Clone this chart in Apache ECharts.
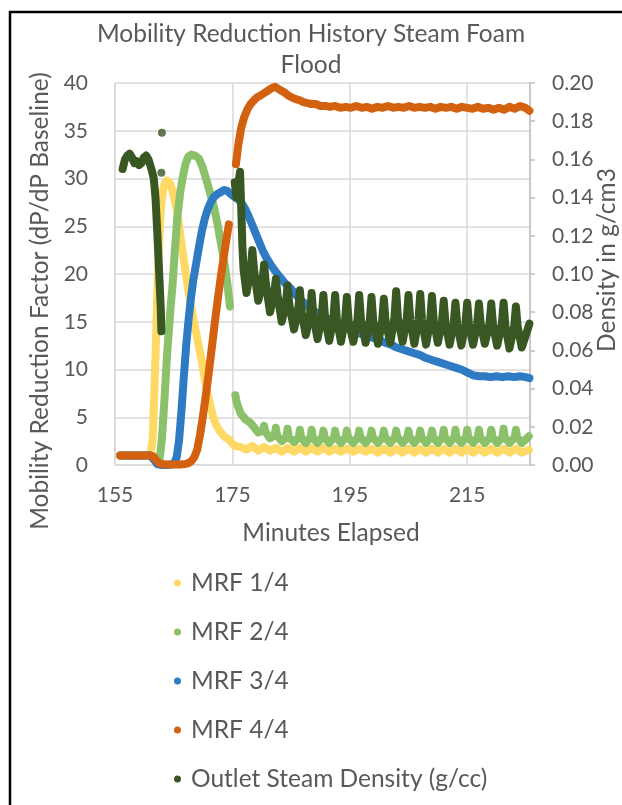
<!DOCTYPE html>
<html><head><meta charset="utf-8">
<script src="https://cdn.jsdelivr.net/npm/echarts@6/dist/echarts.min.js"></script>
<style>html,body{margin:0;padding:0;background:#fff;}#c{width:622px;height:805px;}</style>
</head><body><div id="c"></div>
<script>
const titleText = "Mobility Reduction History Steam Foam\nFlood";
const xName = "Minutes Elapsed";
const yLeftName = "Mobility Reduction Factor (dP/dP Baseline)";
const yRightName = "Density in g/cm3";
const seriesNames = ["MRF 1/4", "MRF 2/4", "MRF 3/4", "MRF 4/4", "Outlet Steam Density (g/cc)"];

// [minutes, MRF]
const mrf1 = [[155.9,1.0],[157.0,1.0],[158.0,1.0],[159.0,1.0],[160.0,1.0],[161.0,1.1],[161.4,2.5],[161.7,7.5],[162.0,13.5],[162.3,19.5],[162.6,24.5],[162.9,27.5],[163.3,29.2],[163.8,29.8],[164.3,29.6],[164.8,28.7],[165.3,27.4],[165.8,25.6],[166.3,23.3],[166.8,21.1],[167.3,19.1],[167.8,17.2],[168.3,15.5],[168.8,13.9],[169.3,12.4],[169.8,10.8],[170.3,9.0],[170.8,7.4],[171.3,6.0],[171.8,4.9],[172.3,4.1],[172.8,3.6],[173.3,3.2],[173.8,2.9],[174.3,2.7],[174.8,2.4],[175.3,2.0],[176.4,1.9],[177.4,1.6],[178.4,2.0],[179.4,1.5],[180.4,1.9],[181.4,1.5],[182.4,1.8],[183.4,1.4],[184.4,1.8],[185.5,1.4],[186.5,1.8],[187.5,1.4],[188.5,1.8],[189.5,1.4],[190.5,1.8],[191.5,1.4],[192.5,1.7],[193.5,1.4],[194.5,1.7],[195.6,1.4],[196.6,1.7],[197.7,1.4],[198.7,1.7],[199.8,1.3],[200.8,1.7],[201.9,1.3],[202.9,1.7],[204.0,1.3],[205.0,1.7],[206.0,1.3],[207.0,1.7],[208.0,1.3],[209.0,1.7],[210.0,1.3],[211.0,1.7],[212.0,1.3],[213.0,1.7],[214.0,1.3],[215.0,1.7],[216.0,1.3],[217.0,1.7],[218.0,1.3],[219.1,1.7],[220.1,1.3],[221.2,1.7],[222.2,1.3],[223.3,1.7],[224.3,1.3],[225.5,1.6]];

const mrf2 = [[155.9,1.0],[158.0,1.0],[160.0,1.0],[161.0,1.0],[161.6,0.6],[162.2,0.2],[162.6,0.6],[163.0,2.8],[163.4,6.6],[163.9,11.8],[164.4,16.0],[164.8,18.8],[165.2,22.5],[165.6,25.8],[166.1,28.5],[166.5,30.0],[167.0,31.5],[167.5,32.3],[168.0,32.5],[168.6,32.4],[169.3,32.1],[169.9,31.2],[170.5,30.0],[171.2,28.5],[171.9,26.9],[172.5,25.1],[173.0,23.4],[173.6,21.3],[174.1,19.2],[174.4,17.6],[174.6,16.6],[175.0,'-'],[175.5,7.3],[175.8,6.4],[176.4,5.4],[177.2,4.8],[178.1,4.4],[178.4,4.6],[179.4,3.4],[180.2,3.6],[180.4,4.1],[180.6,3.5],[181.4,2.8],[182.2,3.1],[182.4,3.9],[182.6,3.1],[183.4,2.5],[184.2,2.9],[184.4,3.8],[184.6,2.9],[185.5,2.4],
[186.3,2.9],[186.5,3.7],[186.7,2.9],[187.5,2.3],[188.3,2.9],[188.5,3.7],[188.7,2.9],[189.5,2.3],[190.3,2.9],[190.5,3.6],[190.7,2.9],[191.5,2.3],[192.3,2.9],[192.5,3.6],[192.7,2.9],[193.5,2.3],[194.3,2.9],[194.5,3.6],[194.7,2.9],[195.6,2.3],[196.4,2.9],[196.6,3.6],[196.8,2.9],[197.7,2.3],[198.5,2.9],[198.7,3.6],[198.9,2.9],[199.8,2.3],[200.6,2.9],[200.8,3.6],[201.0,2.9],[201.9,2.3],[202.7,2.9],[202.9,3.6],[203.1,2.9],[204.0,2.3],[204.8,2.9],[205.0,3.6],[205.2,2.9],[206.0,2.3],[206.8,2.9],[207.0,3.6],[207.2,2.9],[208.0,2.3],[208.8,2.9],[209.0,3.6],[209.2,2.9],[210.0,2.3],[210.8,2.9],[211.0,3.7],[211.2,2.9],[212.0,2.3],[212.8,2.9],[213.0,3.7],[213.2,2.9],[214.0,2.3],[214.8,2.9],[215.0,3.7],[215.2,2.9],[216.0,2.3],[216.8,2.9],[217.0,3.7],[217.2,2.9],[218.0,2.3],[218.9,2.9],[219.1,3.7],[219.3,2.9],[220.1,2.3],[221.0,2.9],[221.2,3.8],[221.4,2.9],[222.2,2.3],[223.1,2.9],[223.3,3.7],[223.5,2.9],[224.3,2.3],[225.2,2.8],[225.5,3.0]];

const mrf3 = [[155.9,1.0],[158.0,1.0],[160.0,1.0],[161.0,1.0],[161.6,0.6],[162.2,0.1],[163.0,0.0],[164.0,0.0],[165.0,0.1],[165.5,0.8],[165.9,2.5],[166.3,5.5],[166.7,9.0],[167.1,12.3],[167.5,15.0],[167.9,17.3],[168.3,19.2],[168.8,21.0],[169.3,22.8],[169.8,24.5],[170.3,25.8],[170.8,26.8],[171.3,27.5],[171.9,28.1],[172.5,28.4],[173.1,28.6],[173.6,28.8],[174.1,28.7],[174.7,28.4],[175.3,28.1],[176.0,27.8],[176.6,27.4],[177.2,26.8],[177.8,26.0],[178.4,25.1],[179.0,24.2],[179.6,23.3],[180.2,22.4],[180.8,21.7],[181.5,21.0],[182.3,20.3],[183.2,19.6],[184.0,19.0],[184.9,18.5],[185.7,17.9],[186.6,17.3],[187.5,16.8],[188.3,16.4],[189.2,16.0],[190.0,15.7],[191.0,15.4],[192.0,15.1],[193.0,14.8],[194.0,14.5],[195.0,14.2],[196.0,13.9],[197.0,13.7],[198.0,13.5],[199.0,13.3],[200.0,13.1],[201.0,12.8],[202.0,12.6],[203.0,12.3],[204.0,12.1],[205.0,11.9],[206.0,11.7],[207.0,11.5],[208.0,11.2],[209.0,11.0],[210.0,10.8],[211.0,10.6],[212.0,10.4],[213.0,10.2],[214.0,10.0],[215.0,9.7],[216.0,9.4],[217.0,9.3],[218.0,9.3],[219.0,9.2],[220.0,9.3],[221.0,9.2],[222.0,9.3],[223.0,9.2],[224.0,9.3],[225.0,9.2],[225.6,9.1]];

const mrf4 = [[155.9,1.0],[157.0,1.0],[158.0,1.0],[159.0,1.0],[160.0,1.0],[161.0,1.0],[161.5,0.9],[162.0,0.5],[162.5,0.2],[163.0,0.1],[164.0,0.05],[165.0,0.05],[166.0,0.05],[167.0,0.1],[167.5,0.2],[168.0,0.4],[168.5,0.8],[169.0,1.6],[169.5,3.2],[170.0,5.2],[170.5,7.4],[171.0,9.8],[171.5,12.3],[172.0,14.9],[172.5,17.3],[173.0,19.6],[173.5,21.7],[174.0,23.7],[174.4,25.2],[175.0,'-'],[175.6,31.5],[176.0,33.5],[176.5,35.3],[177.0,36.4],[177.6,37.3],[178.1,37.8],[178.7,38.2],[179.2,38.5],[179.8,38.7],[180.3,38.9],[180.8,39.1],[181.3,39.3],[181.8,39.5],[182.3,39.6],[182.8,39.4],[183.3,39.2],[183.9,39.0],[184.5,38.7],[185.1,38.5],[185.8,38.3],[186.4,38.2],[187.1,38.0],[187.8,37.9],[188.5,37.8],[189.2,37.8],[190.0,37.6],[190.8,37.6],[191.6,37.5],[192.5,37.6],[193.4,37.4],[194.3,37.5],[195.2,37.4],[196.1,37.6],[197.0,37.4],[197.9,37.5],[198.8,37.3],[199.7,37.5],[200.6,37.4],[201.5,37.6],[202.4,37.4],[203.3,37.5],[204.2,37.4],[205.1,37.6],[206.0,37.4],[206.9,37.5],[207.8,37.4],[208.7,37.5],[209.6,37.3],[210.5,37.5],[211.4,37.4],[212.3,37.5],[213.2,37.3],[214.1,37.5],[215.0,37.4],[215.9,37.3],[216.8,37.5],[217.7,37.3],[218.6,37.4],[219.5,37.2],[220.4,37.4],[221.3,37.2],[222.2,37.5],[223.1,37.3],[224.0,37.6],[224.9,37.4],[225.6,37.1]];

// [minutes, g/cc]
const density = [[156.3,0.155],[156.7,0.160],[157.1,0.162],[157.5,0.163],[157.9,0.161],[158.3,0.158],[158.7,0.159],[159.1,0.157],[159.5,0.158],[159.9,0.161],[160.3,0.162],[160.7,0.160],[161.0,0.157],[161.3,0.154],[161.6,0.150],[161.9,0.140],[162.2,0.122],[162.5,0.102],[162.8,0.082],[162.9,0.070],[163.5,'-'],
[175.4,0.148],[175.7,0.140],[176.0,0.147],[176.3,0.1535],[176.5,0.135],[176.7,0.115],[176.9,0.1025],[177.4,0.090],[178.1,0.102],[178.4,0.1125],[178.7,0.102],[179.4,0.086],[180.1,0.095],[180.4,0.105],[180.7,0.095],[181.4,0.080],[182.1,0.089],[182.4,0.0975],[182.7,0.089],[183.4,0.075],[184.1,0.084],[184.4,0.094],[184.7,0.084],[185.5,0.071],[186.2,0.081],[186.5,0.0915],[186.8,0.080],[187.5,0.068],[188.2,0.078],[188.5,0.090],[188.8,0.078],[189.5,0.066],[190.2,0.077],[190.5,0.089],[190.8,0.0765],[191.5,0.065],[192.2,0.0765],[192.5,0.089],[192.8,0.076],[193.5,0.0645],[194.2,0.076],[194.5,0.088],[194.8,0.0755],[195.6,0.0645],[196.3,0.076],[196.6,0.089],[196.9,0.076],[197.7,0.064],[198.4,0.0755],[198.7,0.088],[199.0,0.0755],[199.8,0.0635],[200.5,0.075],[200.8,0.087],[201.1,0.075],[201.9,0.064],[202.6,0.077],[202.9,0.091],[203.2,0.077],[204.0,0.0645],[204.7,0.0765],[205.0,0.089],[205.3,0.076],[206.0,0.0635],[206.7,0.076],[207.0,0.0895],[207.3,0.076],[208.0,0.063],[208.7,0.0755],[209.0,0.0885],[209.3,0.0755],[210.0,0.064],[210.7,0.075],[211.0,0.086],[211.3,0.0745],[212.0,0.063],[212.7,0.074],[213.0,0.085],[213.3,0.074],[214.0,0.0625],[214.7,0.074],[215.0,0.085],[215.3,0.074],[216.0,0.063],[216.7,0.074],[217.0,0.0845],[217.3,0.074],[218.0,0.0635],[218.8,0.074],[219.1,0.0845],[219.4,0.0735],[220.1,0.0625],[220.9,0.074],[221.2,0.085],[221.5,0.073],[222.2,0.061],[223.0,0.0725],[223.3,0.083],[223.6,0.0725],[224.3,0.0615],[225.2,0.070],[225.6,0.074]];
const densityStray = [[163.0,0.174],[162.9,0.153],[162.8,0.140]];

const colors = ["#FFD966", "#8BC16B", "#2E7BC4", "#D3610F", "#385723"];
const FONT = "Lato";
const TXT = "#595959";

const chart = echarts.init(document.getElementById('c'), null, {renderer: 'canvas'});
function lineSeries(name, data, color, yIdx) {
  return {name, type: 'line', data, yAxisIndex: yIdx, showSymbol: false, symbol: 'circle', symbolSize: 8,
    connectNulls: false, smooth: false, animation: false, color,
    lineStyle: {width: 8, color, cap: 'round', join: 'round'}, emphasis: {disabled: true}};
}
function axisTitle(text, x, y, rot) {
  return {type: 'text', x, y, rotation: rot, silent: true,
    style: {text, x: 0, y: 0, align: 'center', verticalAlign: 'middle',
      font: '24.5px ' + FONT, fill: TXT}};
}
chart.setOption({
  backgroundColor: '#fff',
  animation: false,
  color: colors,
  title: {text: titleText, left: 306, top: 14, textAlign: 'center',
    textStyle: {fontFamily: FONT, fontSize: 24.5, fontWeight: 'normal', color: TXT, lineHeight: 31}},
  grid: {left: 115, top: 83, width: 415, height: 382, containLabel: false, outerBoundsMode: 'none'},
  legend: {orient: 'vertical', left: 169, top: 564, icon: 'circle', itemWidth: 7, itemHeight: 7, itemGap: 21,
    data: seriesNames,
    textStyle: {fontFamily: FONT, fontSize: 24.5, color: TXT, lineHeight: 28, padding: [0,0,0,5]}},
  xAxis: {type: 'value', min: 155, max: 225.7, interval: 20,
    axisLine: {show: true, lineStyle: {color: '#D9D9D9', width: 1.5}},
    axisTick: {show: false},
    axisLabel: {fontFamily: FONT, fontSize: 21, color: TXT, margin: 20, showMaxLabel: false},
    splitLine: {show: true, lineStyle: {color: '#D9D9D9', width: 1.5}}},
  yAxis: [
    {type: 'value', min: 0, max: 40, interval: 5, position: 'left',
      axisLine: {show: true, lineStyle: {color: '#D9D9D9', width: 1.5}},
      axisTick: {show: false},
      axisLabel: {fontFamily: FONT, fontSize: 21, color: TXT, margin: 27},
      splitLine: {show: true, lineStyle: {color: '#D9D9D9', width: 1.5}}},
    {type: 'value', min: 0, max: 0.2, interval: 0.02, position: 'right',
      axisLine: {show: true, lineStyle: {color: '#BFBFBF', width: 1.5}},
      axisTick: {show: true, inside: false, length: 5, lineStyle: {color: '#BFBFBF', width: 1.5}},
      axisLabel: {fontFamily: FONT, fontSize: 21, color: TXT, margin: 22, formatter: v => v.toFixed(2)},
      splitLine: {show: false}}
  ],
  graphic: [
    {type: 'rect', silent: true, z: 100,
      shape: {x: 10, y: 12, width: 720, height: 900},
      style: {fill: 'none', stroke: '#000', lineWidth: 2.5}},
    axisTitle(xName, 331, 533, 0),
    axisTitle(yLeftName, 40, 301, Math.PI / 2),
    axisTitle(yRightName, 607, 260, Math.PI / 2)
  ],
  series: [
    lineSeries(seriesNames[0], mrf1, colors[0], 0),
    lineSeries(seriesNames[1], mrf2, colors[1], 0),
    lineSeries(seriesNames[2], mrf3, colors[2], 0),
    lineSeries(seriesNames[3], mrf4, colors[3], 0),
    lineSeries(seriesNames[4], density, colors[4], 1),
    {name: seriesNames[4], type: 'scatter', yAxisIndex: 1, data: densityStray, symbol: 'circle', symbolSize: 8,
      color: colors[4], itemStyle: {color: colors[4]}, animation: false, emphasis: {disabled: true}}
  ]
});
</script></body></html>
